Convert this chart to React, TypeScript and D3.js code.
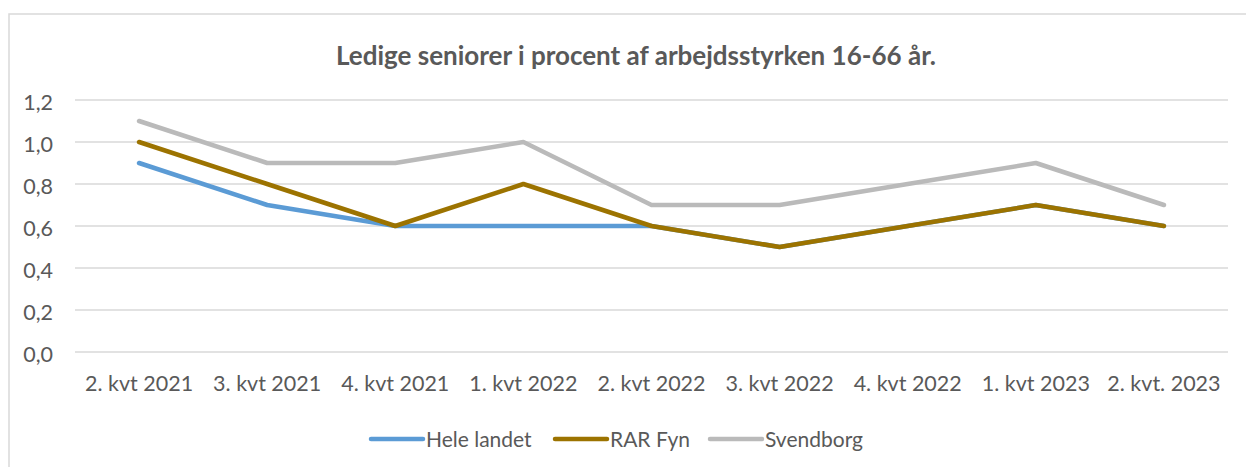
import React from "react";
import * as d3 from "d3";

const categories = [
  "2. kvt 2021",
  "3. kvt 2021",
  "4. kvt 2021",
  "1. kvt 2022",
  "2. kvt 2022",
  "3. kvt 2022",
  "4. kvt 2022",
  "1. kvt 2023",
  "2. kvt. 2023",
];
const heleLandet = [0.9, 0.7, 0.6, 0.6, 0.6, 0.5, 0.6, 0.7, 0.6];
const rarFyn = [1.0, 0.8, 0.6, 0.8, 0.6, 0.5, 0.6, 0.7, 0.6];
const svendborg = [1.1, 0.9, 0.9, 1.0, 0.7, 0.7, 0.8, 0.9, 0.7];
const yTicks = [0, 0.2, 0.4, 0.6, 0.8, 1.0, 1.2];

const series = [
  { name: "Hele landet", values: heleLandet, color: "#5B9BD5" },
  { name: "RAR Fyn", values: rarFyn, color: "#9C7300" },
  { name: "Svendborg", values: svendborg, color: "#BABABA" },
];

const W = 1246;
const H = 467;
const FONT = "Lato, 'Open Sans', sans-serif";
const TEXT = "#595959";

export default function App() {
  const x = d3.scaleBand<string>().domain(categories).range([75, 1228]);
  const y = d3.scaleLinear().domain([0, 1.2]).range([352, 100]);
  const fmt = (v: number) => v.toFixed(1).replace(".", ",");

  const line = (vals: number[]) =>
    d3
      .line<number>()
      .x((_, i) => x(categories[i])! + x.bandwidth() / 2)
      .y((d) => y(d))(vals) || "";

  const legendX = [371, 555, 710];

  return (
    <svg
      width={W}
      height={H}
      style={{ position: "absolute", left: 0, top: 0, background: "#fff" }}
      fontFamily={FONT}
    >
      <rect x={9} y={14} width={W + 10} height={H + 10} fill="#fff" stroke="#D9D9D9" strokeWidth={1.5} />
      <text x={636} y={65} textAnchor="middle" fontSize={26} fontWeight="bold" fill={TEXT}>
        Ledige seniorer i procent af arbejdsstyrken 16-66 år.
      </text>
      {yTicks.map((t) => (
        <g key={t}>
          <line x1={75} x2={1228} y1={y(t)} y2={y(t)} stroke="#D9D9D9" strokeWidth={1.5} />
          <text x={53} y={y(t) + 10} textAnchor="end" fontSize={21.5} fill={TEXT}>
            {fmt(t)}
          </text>
        </g>
      ))}
      {categories.map((c) => (
        <text
          key={c}
          x={x(c)! + x.bandwidth() / 2}
          y={391}
          textAnchor="middle"
          fontSize={21.5}
          fill={TEXT}
        >
          {c}
        </text>
      ))}
      {series.map((s) => (
        <path
          key={s.name}
          d={line(s.values)}
          fill="none"
          stroke={s.color}
          strokeWidth={4.5}
          strokeLinecap="round"
          strokeLinejoin="round"
        />
      ))}
      {series.map((s, i) => (
        <g key={s.name} transform={`translate(${legendX[i]},439)`}>
          <line x1={0} x2={52} y1={0} y2={0} stroke={s.color} strokeWidth={4.5} strokeLinecap="round" />
          <text x={55} y={7.5} fontSize={21} fill={TEXT}>
            {s.name}
          </text>
        </g>
      ))}
    </svg>
  );
}
